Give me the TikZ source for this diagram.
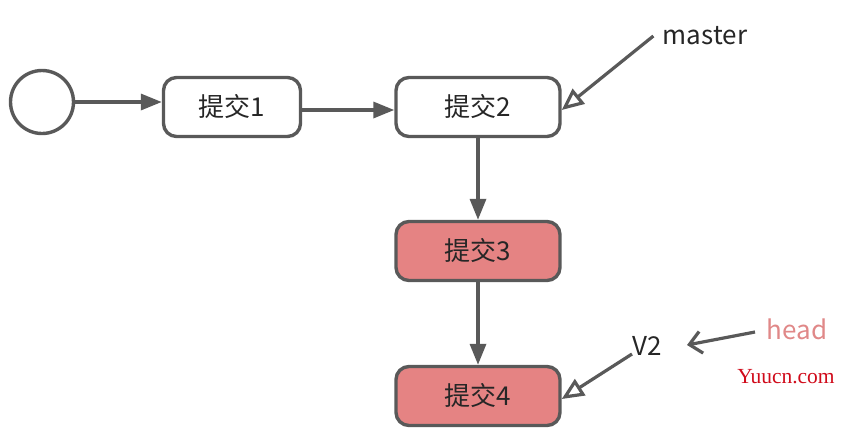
\documentclass[tikz,border=0pt]{standalone}
\usepackage{fontspec}
\usepackage{tikz}
\usetikzlibrary{arrows.meta}
\setmainfont{Noto Sans CJK SC}
\newfontfamily\wmfont{Liberation Serif}
\definecolor{linegray}{HTML}{595959}
\definecolor{commitred}{HTML}{E58383}
\definecolor{headpink}{HTML}{E08888}
\definecolor{wmred}{HTML}{D00A1A}

\begin{document}
\begin{tikzpicture}[x=1pt,y=-1pt,>={Triangle[length=21pt,width=16pt]},
    commit/.style={draw=linegray,line width=3.4pt,rounded corners=13pt,minimum width=164pt,minimum height=59pt,font=\fontsize{26}{28}\selectfont,text=black!85},
    link/.style={draw=linegray,line width=3.4pt,->},
    pointer/.style={draw=linegray,line width=3.2pt,-{Triangle[open,length=22pt,width=19pt]}},
    tag/.style={font=\fontsize{26}{28}\selectfont,text=black!85}]
      \useasboundingbox (0,0) rectangle (848,432);
      \node[draw=linegray,line width=3.4pt,circle,minimum size=63pt,inner sep=0pt] (root) at (42,102) {};
      \node[commit,minimum width=137pt,fill=white] (c1) at (232,107) {提交1};
      \node[commit,fill=white] (c2) at (478,107) {提交2};
      \node[commit,fill=commitred] (c3) at (478,251) {提交3};
      \node[commit,fill=commitred] (c4) at (478,396) {提交4};
      \draw[link] (root.east) -- (root.east -| c1.west);
      \draw[link] ([yshift=-3pt]c1.east) -- ([yshift=-3pt]c2.west);
      \draw[link] (c2) -- (c3);
      \draw[link] (c3) -- (c4);
      \node[tag] (master) at (705,36) {master};
      \node[tag] (v2) at (647,346) {V2};
      \node[tag,text=headpink] (head) at (797,329) {head};
      \draw[pointer] ([xshift=-6pt]master.west) -- ([yshift=-3pt]c2.east);
      \draw[pointer] ([shift={(-15,8)}]v2.center) -- ([yshift=-3pt]c4.east);
      \draw[draw=linegray,line width=3.2pt,-{Straight Barb[length=12pt,width=22pt]}] ([shift={(-42,3)}]head.center) -- ([shift={(40,-1)}]v2.center);
      \node[font=\wmfont\fontsize{21.5}{23}\selectfont,text=wmred] (wm) at (786,377) {Yuucn.com};
    \end{tikzpicture}
\end{document}
